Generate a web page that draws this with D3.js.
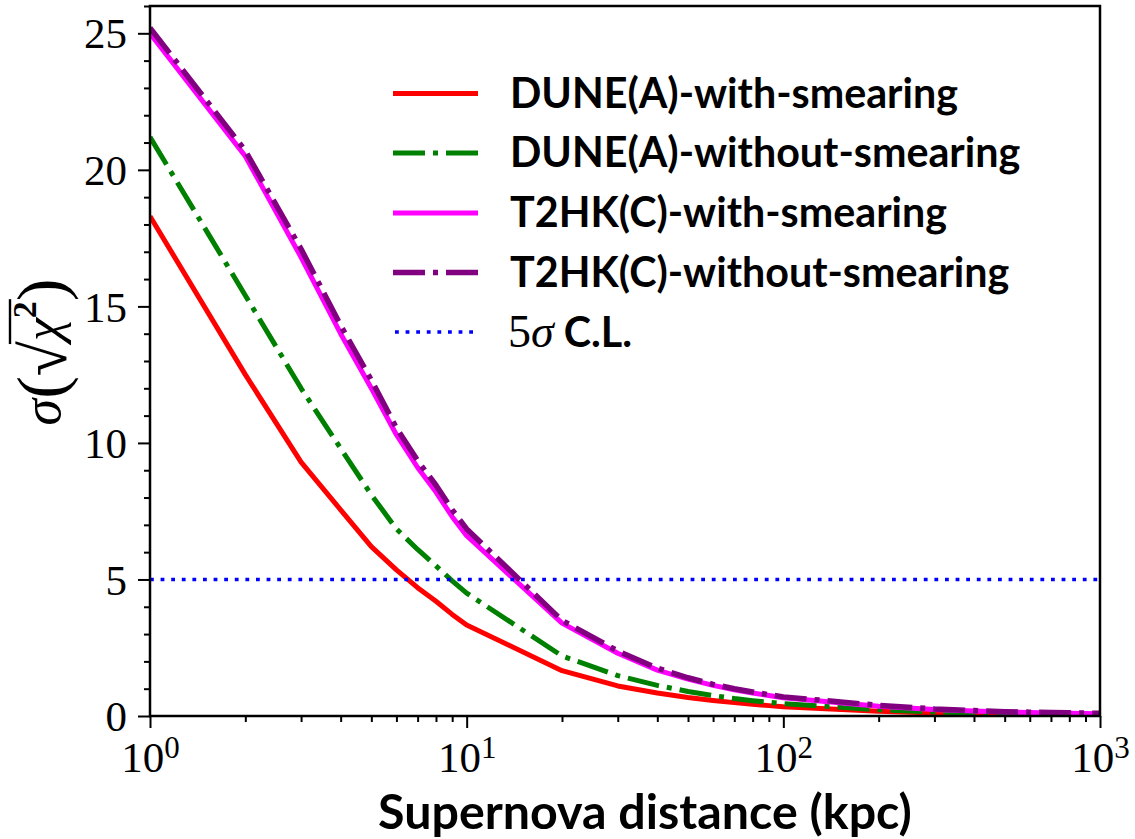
<!DOCTYPE html>
<html><head><meta charset="utf-8">
<script src="https://cdn.jsdelivr.net/npm/d3@7"></script>
<style>body{margin:0;background:#fff} svg{display:block}</style>
</head><body><svg id="c" width="1135" height="839"></svg>
<script>
// ---- data ----
const distances = [1,2,3,4,5,6,7,8,9,10,20,30,40,50,60,70,80,90,100,200,300,400,500,600,700,800,900,1000];
const duneWith = [18.3,12.5,9.3,7.55,6.2,5.35,4.7,4.2,3.72,3.33,1.66,1.1,0.84,0.68,0.57,0.49,0.43,0.38,0.34,0.17,0.11,0.085,0.068,0.057,0.049,0.043,0.038,0.034];
const duneWithout = [21.2,15.4,12.0,9.8,8.1,6.85,6.1,5.5,4.95,4.5,2.2,1.48,1.12,0.9,0.75,0.64,0.56,0.5,0.45,0.23,0.15,0.11,0.09,0.075,0.064,0.056,0.05,0.045];
const t2hkWith = [25.0,20.5,16.8,14.0,12.0,10.3,9.1,8.2,7.3,6.6,3.4,2.3,1.68,1.35,1.12,0.96,0.84,0.75,0.67,0.36,0.24,0.18,0.145,0.125,0.11,0.1,0.09,0.085];
const t2hkWithout = [25.2,20.7,17.1,14.3,12.3,10.55,9.35,8.45,7.55,6.85,3.5,2.38,1.75,1.4,1.16,1.0,0.88,0.78,0.7,0.39,0.26,0.2,0.16,0.14,0.125,0.115,0.105,0.1];
const clLevel = 5;
const seriesNames = ["DUNE(A)-with-smearing","DUNE(A)-without-smearing","T2HK(C)-with-smearing","T2HK(C)-without-smearing"];
const yMajorTicks = [0,5,10,15,20,25];
const yMinorTicks = [1,2,3,4,6,7,8,9,11,12,13,14,16,17,18,19,21,22,23,24,26];
const xMajorTicks = [1,10,100,1000];
const xMajorExp = ["0","1","2","3"];
const xMinorTicks = [2,3,4,5,6,7,8,9,20,30,40,50,60,70,80,90,200,300,400,500,600,700,800,900];
const xLabel = "Supernova distance (kpc)";

// ---- layout ----
const svg = d3.select("#c");
const L = 150, R = 1100, T = 6, B = 716;
const x = d3.scaleLog().domain([1,1000]).range([L,R]);
const y = d3.scaleLinear().domain([0,26]).range([B,T]);
const serif = "'Liberation Serif','DejaVu Serif',serif";
const sans = "Lato,'Open Sans','DejaVu Sans',sans-serif";

svg.append("defs").append("clipPath").attr("id","clip")
  .append("rect").attr("x",L).attr("y",T).attr("width",R-L).attr("height",B-T);

const styles = [
  {color:"#ff0000", dash:null, width:5},
  {color:"#008000", dash:"32,8,5,8", width:5},
  {color:"#ff00ff", dash:null, width:5},
  {color:"#800080", dash:"32,8,5,8", width:5.5}
];
const allSeries = [duneWith, duneWithout, t2hkWith, t2hkWithout];
const line = d3.line().x((d,i)=>x(distances[i])).y(d=>y(d));
const plot = svg.append("g").attr("clip-path","url(#clip)");
allSeries.forEach((vals,k)=>{
  plot.append("path").datum(vals).attr("d",line)
    .attr("fill","none").attr("stroke",styles[k].color)
    .attr("stroke-width",styles[k].width)
    .attr("stroke-dasharray",styles[k].dash)
    .attr("stroke-linejoin","round");
});
plot.append("line").attr("x1",x(1)).attr("x2",x(1000)).attr("y1",y(clLevel)).attr("y2",y(clLevel))
  .attr("stroke","#0000ff").attr("stroke-width",3.6).attr("stroke-dasharray","3.8,6.8");

// ---- axes ----
function styleAxis(g){
  g.select(".domain").remove();
  g.selectAll(".tick line").attr("stroke","#000").attr("stroke-width",2);
}
svg.append("g").attr("transform",`translate(${L},0)`)
  .call(d3.axisLeft(y).tickValues(yMinorTicks).tickSize(6).tickFormat(""))
  .call(styleAxis);
const ya = svg.append("g").attr("transform",`translate(${L},0)`)
  .call(d3.axisLeft(y).tickValues(yMajorTicks).tickSize(12).tickPadding(11).tickFormat(d3.format("d")))
  .call(styleAxis);
ya.selectAll(".tick text").attr("font-family",serif).attr("font-size",43).attr("fill","#000").attr("dy","0.34em");

svg.append("g").attr("transform",`translate(0,${B})`)
  .call(d3.axisBottom(x).tickValues(xMinorTicks).tickSize(6).tickFormat(""))
  .call(styleAxis);
const xa = svg.append("g").attr("transform",`translate(0,${B})`)
  .call(d3.axisBottom(x).tickValues(xMajorTicks).tickSize(12).tickFormat(""))
  .call(styleAxis);
xa.selectAll(".tick text").remove();
xa.selectAll(".tick").each(function(d,i){
  const t = d3.select(this).append("text").attr("text-anchor","middle")
    .attr("y",56).attr("font-family",serif).attr("font-size",43).attr("fill","#000");
  t.append("tspan").text("10");
  t.append("tspan").attr("dy",-14).attr("font-size",31).text(xMajorExp[i]);
});

// frame
svg.append("rect").attr("x",L).attr("y",T).attr("width",R-L).attr("height",B-T)
  .attr("fill","none").attr("stroke","#000").attr("stroke-width",2.5);

// ---- legend ----
const legRows = [93.5,153,213,272.5,332];
const lg = svg.append("g");
const legTexts = [];
seriesNames.forEach((nm,k)=>{
  lg.append("line").attr("x1",393).attr("x2",478).attr("y1",legRows[k]).attr("y2",legRows[k])
    .attr("stroke",styles[k].color).attr("stroke-width",styles[k].width)
    .attr("stroke-dasharray",styles[k].dash);
  legTexts.push(lg.append("text").attr("x",510).attr("y",legRows[k]+14)
    .attr("font-family",sans).attr("font-weight",700).attr("font-size",37).attr("fill","#000").text(nm));
});
lg.append("line").attr("x1",395).attr("x2",478).attr("y1",legRows[4]).attr("y2",legRows[4])
  .attr("stroke","#0000ff").attr("stroke-width",3.6).attr("stroke-dasharray","3.8,6.8");
const clT = lg.append("text").attr("x",508).attr("y",legRows[4]+15).attr("fill","#000").attr("font-size",46);
clT.append("tspan").attr("font-family",serif).text("5");
clT.append("tspan").attr("font-family",serif).attr("font-style","italic").text("σ");
const clSans = clT.append("tspan").attr("font-family",sans).attr("font-weight",700).text(" C.L.");
// fit legend text width
const w0 = legTexts[0].node().getComputedTextLength();
const fs = 37*448/w0;
legTexts.forEach(t=>t.attr("font-size",fs));
clSans.attr("font-size",fs);

// ---- x label ----
const xl = svg.append("text").attr("x",645).attr("y",829).attr("text-anchor","middle")
  .attr("font-family",sans).attr("font-weight",700).attr("font-size",42).attr("fill","#000").text(xLabel);
const wx = xl.node().getComputedTextLength();
xl.attr("font-size",42*534/wx);

// ---- y label ----
const yg = svg.append("g").attr("transform","translate(60,352) rotate(-90)");
const yt = yg.append("text").attr("text-anchor","middle").attr("font-family",serif).attr("font-size",54).attr("fill","#000");
yt.append("tspan").attr("font-style","italic").text("σ");
yt.append("tspan").attr("font-size",68).attr("dy",4).text("(");
yt.append("tspan").attr("font-size",64).attr("dy",2).text("√");
yt.append("tspan").attr("font-style","italic").attr("font-size",52).attr("dy",-6).text("χ");
yt.append("tspan").attr("font-weight",700).attr("font-size",34).attr("dy",-24).text("2");
yt.append("tspan").attr("font-size",68).attr("dy",28).text(")");
// vinculum over χ²
const n = yt.node();
const eSq = n.getExtentOfChar(2), e2 = n.getExtentOfChar(4);
const vy = -50;
yg.append("line").attr("x1",eSq.x+eSq.width-3).attr("x2",e2.x+e2.width+2).attr("y1",vy).attr("y2",vy)
  .attr("stroke","#000").attr("stroke-width",2.4);
</script></body></html>
